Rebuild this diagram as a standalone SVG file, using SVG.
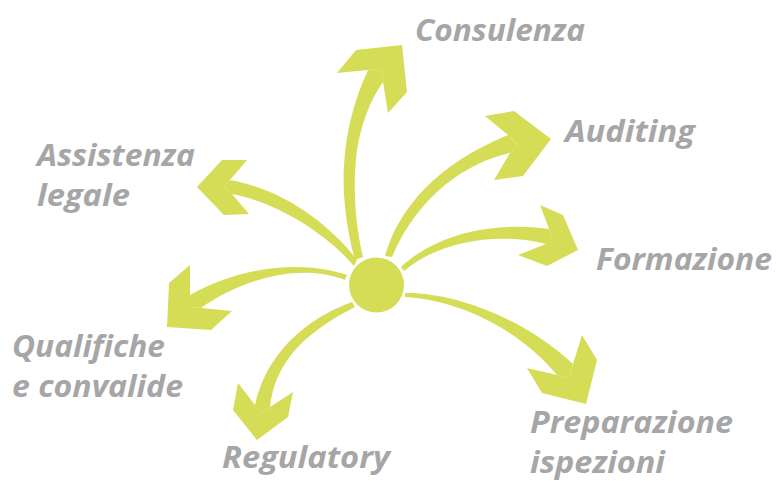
<svg xmlns="http://www.w3.org/2000/svg" width="776" height="481" viewBox="0 0 776 481">
<style>
.a{fill:#D5DC56;stroke:none}
.t{font-family:"Open Sans","Liberation Sans",sans-serif;font-weight:bold;font-style:italic;font-size:31px;fill:#A6A6A6}
</style>
<rect width="776" height="481" fill="#fff"/>
<g id="connectors">
<g id="arrow-consulenza">
<path class="a" d="M355,260 C347,232 342,195 344,165 C346,130 355,98 368,70 L381,69 L383,82 C370,100 361,125 357,150 C353,180 354,220 363,257 Z"/>
<polygon class="a" points="337,73 356,50 402,45 407,92 388,113 383,82 381,69 368,70"/>
</g>
<g id="arrow-auditing">
<path class="a" d="M385,256 C398,210 435,165 508,135 L518,145 L510,153 C468,162 418,195 392,257 Z"/>
<polygon class="a" points="485,116 514,111 551,139 523,176 494,180 510,153 518,145 508,135"/>
</g>
<g id="arrow-formazione">
<path class="a" d="M401,267 C430,240 480,220 549,229 L553,241 L546,244 C500,232 440,240 404,271 Z"/>
<polygon class="a" points="540,205 563,215 578,250 547,266 518,255 546,244 553,241 549,229"/>
</g>
<g id="arrow-preparazione">
<path class="a" d="M405,293 C450,292 520,315 573,364 L569,378 L557,375 C520,330 460,300 405,297 Z"/>
<polygon class="a" points="582,335 597,360 586,404 542,393 527,368 557,375 569,378 573,364"/>
</g>
<g id="arrow-regulatory">
<path class="a" d="M352,302 C318,314 268,345 255,405 L261,413 L270,407 C275,365 300,335 355,307 Z"/>
<polygon class="a" points="238,383 255,405 261,413 270,407 293,392 288,417 257,440 233,410"/>
</g>
<g id="arrow-qualifiche">
<path class="a" d="M347,275 C310,262 250,262 190,295 L190,307 L201,308 C240,280 300,262 345,280 Z"/>
<polygon class="a" points="190,265 169,283 167,327 211,330 232,311 201,308 190,307 190,295"/>
</g>
<g id="arrow-assistenza">
<path class="a" d="M357,260 C330,225 285,190 230,180 L224,187 L232,194 C275,202 325,232 354,266 Z"/>
<polygon class="a" points="222,160 247,160 230,180 224,187 232,194 249,214 224,215 197,187"/>
</g>
</g>
<g id="hub"><circle class="a" cx="376.5" cy="285" r="27.5"/></g>
<g id="consulenza"><text class="t" x="415" y="41" textLength="170" lengthAdjust="spacingAndGlyphs">Consulenza</text></g>
<g id="auditing"><text class="t" x="565" y="142" textLength="130" lengthAdjust="spacingAndGlyphs">Auditing</text></g>
<g id="assistenza"><text class="t" x="37" y="166" textLength="158" lengthAdjust="spacingAndGlyphs">Assistenza</text><text class="t" x="37" y="206" textLength="93" lengthAdjust="spacingAndGlyphs">legale</text></g>
<g id="formazione"><text class="t" x="596" y="270" textLength="176" lengthAdjust="spacingAndGlyphs">Formazione</text></g>
<g id="qualifiche"><text class="t" x="12" y="357" textLength="153" lengthAdjust="spacingAndGlyphs">Qualifiche</text><text class="t" x="12" y="397" textLength="171" lengthAdjust="spacingAndGlyphs">e convalide</text></g>
<g id="regulatory"><text class="t" x="222" y="468" textLength="168" lengthAdjust="spacingAndGlyphs">Regulatory</text></g>
<g id="preparazione"><text class="t" x="530" y="433" textLength="203" lengthAdjust="spacingAndGlyphs">Preparazione</text><text class="t" x="530" y="473" textLength="135" lengthAdjust="spacingAndGlyphs">ispezioni</text></g>
</svg>
